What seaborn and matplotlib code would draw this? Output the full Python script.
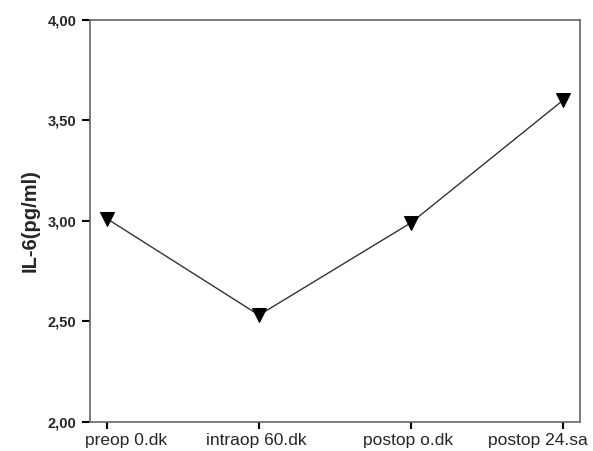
import matplotlib
matplotlib.use("Agg")
import matplotlib.pyplot as plt
import matplotlib.transforms as mtransforms
import seaborn as sns
import pandas as pd

# Data
categories = ["preop 0.dk", "intraop 60.dk", "postop o.dk", "postop 24.sa"]
il6_values = [3.01, 2.53, 2.99, 3.60]
y_ticks = [2.0, 2.5, 3.0, 3.5, 4.0]
y_tick_labels = ["2,00", "2,50", "3,00", "3,50", "4,00"]
y_label = "IL-6(pg/ml)"

df = pd.DataFrame({"time": categories, "il6": il6_values})

sns.set_style("white")
plt.rcParams["font.family"] = ["Liberation Sans", "DejaVu Sans"]

W, H = 593, 451
fig = plt.figure(figsize=(W / 100, H / 100), dpi=100)
ax = fig.add_axes([90 / W, (H - 421.5) / H, 490 / W, 401.5 / H])

sns.lineplot(data=df, x="time", y="il6", ax=ax, color="#333333", linewidth=1.0,
             marker="v", markersize=9.5, markerfacecolor="black",
             markeredgecolor="black", sort=False)

ax.set_xlim(-0.112, 3.112)
ax.set_ylim(2.0, 4.0)
ax.set_yticks(y_ticks)
ax.set_yticklabels(y_tick_labels, fontsize=10.5, fontweight="bold")
ax.set_xticks(range(len(categories)))
ax.set_xticklabels(categories, fontsize=12.5)
ax.set_xlabel("")
ax.set_ylabel(y_label, fontsize=14.5, fontweight="bold", labelpad=6)

for s in ax.spines.values():
    s.set_visible(True)
    s.set_color("#666666")
    s.set_linewidth(1.2)

ax.tick_params(axis="y", direction="out", length=5.8, width=1.5, color="black",
               pad=4, left=True)
ax.tick_params(axis="x", direction="out", length=5, width=1.5, color="black",
               pad=3, bottom=True)
ax.grid(False)

# horizontal shifts of the x tick labels (pixels), as placed in the reference
label_shift_px = [19, -3, -3, -25]
for lbl, dx in zip(ax.get_xticklabels(), label_shift_px):
    lbl.set_transform(lbl.get_transform() +
                      mtransforms.ScaledTranslation(dx / 100, 0, fig.dpi_scale_trans))

fig.savefig("out.png", dpi=100)
